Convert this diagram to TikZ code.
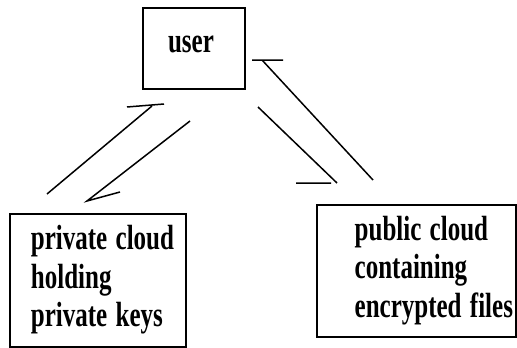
\documentclass[tikz,border=0pt]{standalone}
\usepackage{fontspec}
\setmainfont{Liberation Serif}
\usepackage{graphicx}
\usetikzlibrary{positioning}
\newcommand{\tallt}[1]{\scalebox{1}[1.4]{\begin{tabular}[b]{@{}l@{}}#1\end{tabular}}}
\tikzset{
  boxu/.style={draw=black, line width=1.8pt, inner ysep=0pt, align=left,
    font=\fontsize{25}{27.5}\selectfont\bfseries},
  cloudb/.style={draw=black, line width=1.8pt, inner ysep=2pt, align=right,
    font=\fontsize{25}{27.5}\selectfont\bfseries},
  link/.style={line width=1.5pt, draw=black},
}

\begin{document}
\begin{tikzpicture}[x=1pt, y=-1pt]
  \useasboundingbox (0,0) rectangle (517,348);
  \node[boxu, inner xsep=24.7pt, text width=52.3pt, text height=43.7pt,
    text depth=37.3pt] (user) at (194.2,48.8) {\tallt{user}};
  \node[cloudb, inner xsep=12pt, text width=152pt, minimum height=133pt]
    (priv) at (98,280.5) {\tallt{private cloud\\holding\\private keys}};
  \node[cloudb, inner xsep=3pt, text width=193pt, minimum height=132pt]
    (pub) at (416.5,271) {\tallt{public cloud\\containing\\encrypted files}};
  \coordinate (a0) at (47,194);  \coordinate (a1) at (152,106);
  \coordinate (b0) at (190,121); \coordinate (b1) at (87,201);
  \coordinate (c0) at (258,107); \coordinate (c1) at (337,183);
  \coordinate (d0) at (373,180); \coordinate (d1) at (262,60);
  \draw[link] (a0) -- (a1) ++(-25,1) -- ++(37,-3);
  \draw[link] (b0) -- (b1) -- ++(33,-9);
  \draw[link] (c0) -- (c1) ++(-6,0) -- ++(-35,0);
  \draw[link] (d0) -- (d1) ++(-10,0) -- ++(31,0);
\end{tikzpicture}
\end{document}
